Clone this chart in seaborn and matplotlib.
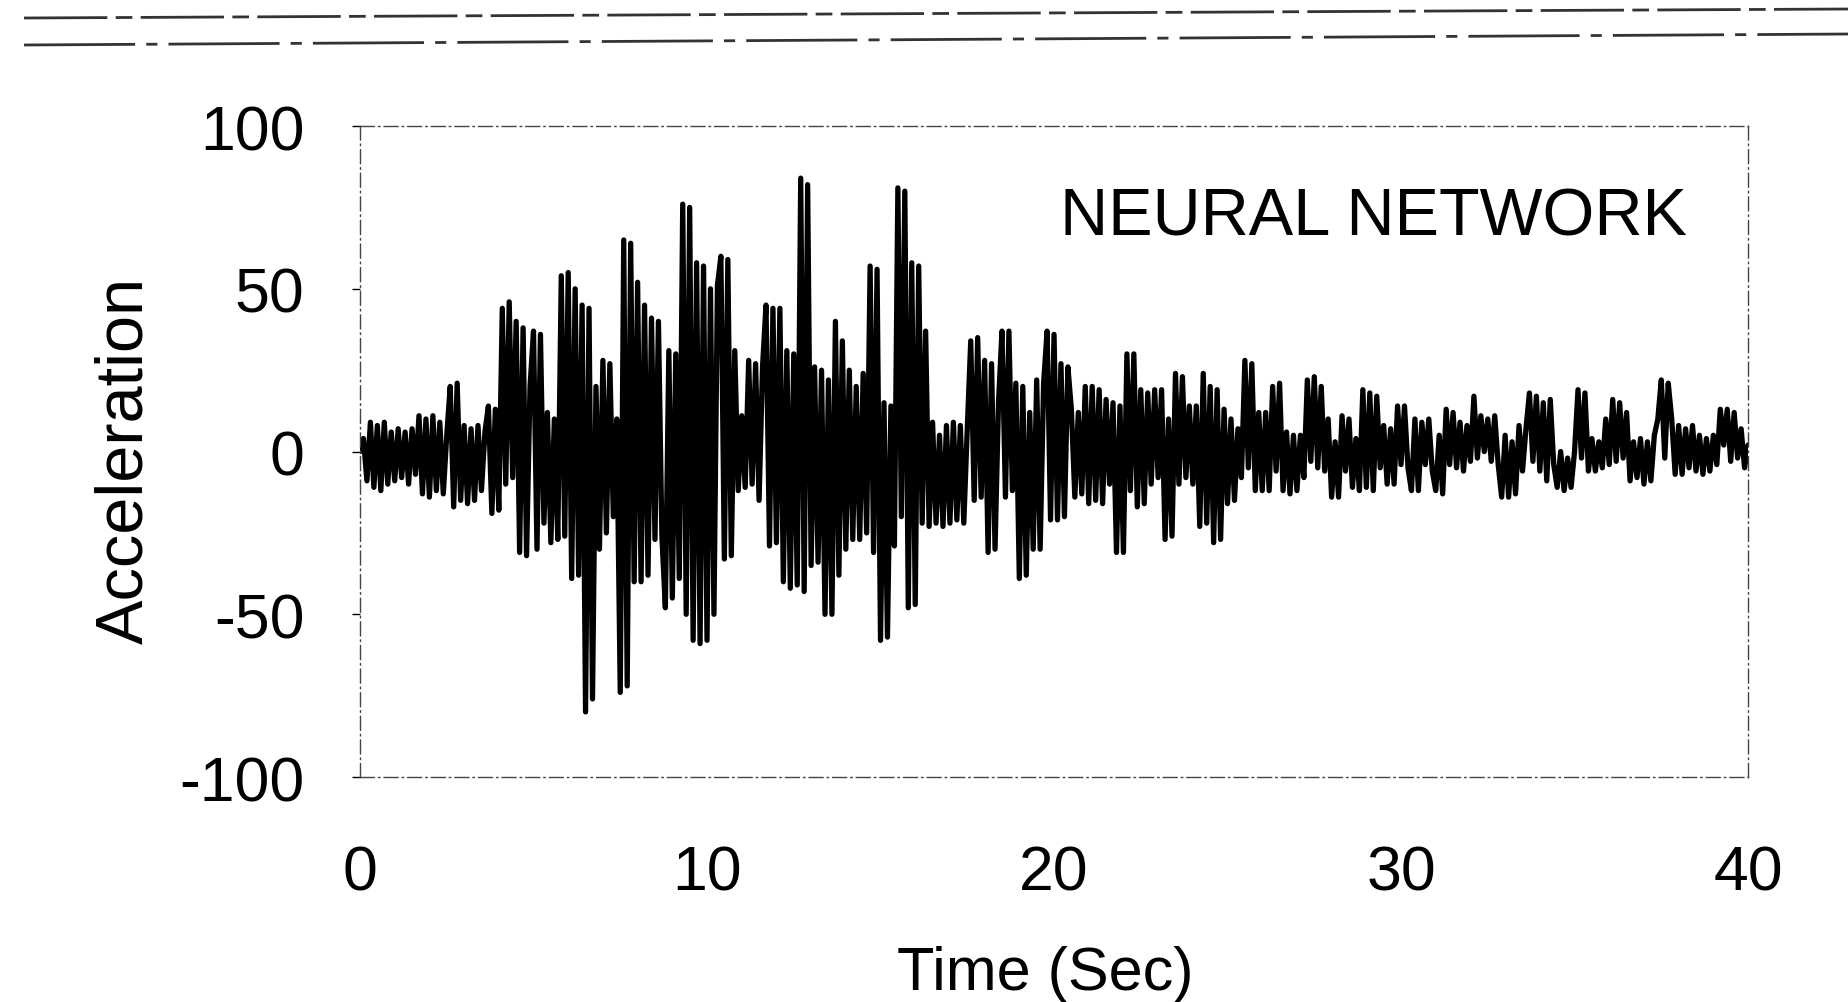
import numpy as np
import matplotlib
matplotlib.use("Agg")
import matplotlib.pyplot as plt
from matplotlib.lines import Line2D
import seaborn as sns

# acceleration, one value every 0.1 s
accel_00_10 = [
    0, 4, -9, 9, -11, 8, -12, 9, -10, 6,
    -9, 7, -8, 6, -10, 7, -7, 11, -13, 10,
    -14, 11, -12, 9, -13, 5, 20, -17, 21, -15,
    8, -16, 7, -15, 8, -12, 6, 14, -19, 13,
    -18, 44, -10, 46, -8, 40, -31, 38, -32, 20,
    37, -30, 36, -22, 12, -28, 10, -27, 54, -26,
    55, -39, 50, -38, 45, -80, 44, -76, 20, -30,
    28, -25, 27, -20, 10, -74, 65, -72, 64, -40,
    52, -40, 45, -38, 41, -27, 40, -26, -48, 31,
    -45, 30, -39, 76, -50, 75, -58, 58, -59, 57,
]
accel_10_20 = [
    -58, 50, -50, 51, 60, -33, 59, -32, 31, -12,
    11, -11, 28, -10, 27, -15, 26, 45, -29, 44,
    -28, 44, -40, 31, -42, 30, -41, 84, -43, 82,
    -35, 26, -34, 25, -50, 22, -50, 40, -38, 34,
    -30, 25, -27, 20, -27, 24, -25, 57, -31, 56,
    -58, 15, -57, 14, -29, 81, -20, 80, -48, 58,
    -47, 57, -22, 37, -23, 9, -22, 5, -23, 8,
    -22, 9, -21, 8, -22, 7, 34, -15, 35, -14,
    28, -31, 27, -30, 15, 37, -14, 37, -12, 21,
    -39, 20, -38, 12, -30, 22, -30, 21, 37, -21,
]
accel_20_30 = [
    36, -21, 27, -20, 26, 13, -14, 12, -13, 20,
    -16, 20, -15, 19, -16, 16, -10, 15, -31, 14,
    -31, 30, -12, 30, -17, 19, -16, 18, -10, 19,
    -8, 19, -27, 10, -26, 24, -10, 23, -8, 14,
    -10, 14, -23, 24, -22, 20, -28, 19, -27, 13,
    -16, 10, -15, 7, -8, 28, -5, 27, -12, 12,
    -12, 12, -12, 20, -6, 21, -12, 6, -13, 5,
    -12, 5, -8, 22, -3, 23, -5, 20, -6, 10,
    -14, 3, -14, 11, -6, 10, -11, 4, -12, 19,
    -11, 18, -12, 17, -5, 8, -10, 7, -10, 14,
]
accel_30_40 = [
    -4, 14, -5, -12, 10, -12, 9, -4, 10, -6,
    -12, 5, -13, 13, -4, 12, -5, 9, -6, 8,
    -3, 17, -2, 11, 0, 10, -3, 11, -4, -14,
    5, -14, 3, -13, 8, -6, 7, 18, -3, 17,
    -6, 15, -9, 16, -4, -11, 0, -12, -2, -11,
    0, 19, -2, 18, -6, 4, -6, 3, -5, 10,
    -4, 16, -3, 15, -2, 12, -9, 3, -8, 4,
    -10, 3, -9, 5, 10, 22, -2, 21, 10, -7,
    8, -7, 7, -5, 8, -6, 5, -7, 4, -6,
    5, -4, 13, 2, 13, -3, 12, -2, 7, -5,
    2,
]
x_ticks = [0, 10, 20, 30, 40]
y_ticks = [-100, -50, 0, 50, 100]

accel = np.array(accel_00_10 + accel_10_20 + accel_20_30 + accel_30_40, dtype=float)
dt = 0.1
time = np.arange(len(accel)) * dt

sns.set_style("white")
plt.rcParams["font.family"] = ["Liberation Sans", "DejaVu Sans"]
plt.rcParams["axes.unicode_minus"] = False
plt.rcParams["text.color"] = "black"
plt.rcParams["axes.labelcolor"] = "black"
plt.rcParams["xtick.color"] = "black"
plt.rcParams["ytick.color"] = "black"

fig = plt.figure(figsize=(18.49, 10.03), dpi=100)
ax = fig.add_axes([0.1947, 0.2243, 0.7507, 0.649])

sns.lineplot(x=time, y=accel, ax=ax, color="black", linewidth=3.8, estimator=None)

ax.set_xlim(0, 40)
ax.set_ylim(-100, 100)
ax.set_xticks(x_ticks)
ax.set_yticks(y_ticks)
ax.tick_params(axis="x", length=0, pad=48, labelsize=45)
ax.tick_params(axis="y", length=6, width=1, pad=34, labelsize=45, left=True)

for sp in ax.spines.values():
    sp.set_linestyle((0, (10, 3, 1, 3)))
    sp.set_linewidth(1.0)
    sp.set_color("#444444")

ax.set_xlabel("Time (Sec)", fontsize=44)
ax.set_ylabel("Acceleration", fontsize=48)
ax.xaxis.set_label_coords(0.494, -0.258)
ax.yaxis.set_label_coords(-0.147, 0.488)

ax.text(0.504, 0.833, "NEURAL NETWORK", transform=ax.transAxes,
        fontsize=48, va="baseline", ha="left")

# faint rules at the top of the scanned page
fig.add_artist(Line2D([0.013, 1.0], [1 - 19 / 1003, 1 - 10 / 1003],
                      transform=fig.transFigure, color="#333333",
                      linewidth=2.0, linestyle=(0, (30, 3, 6, 3))))
fig.add_artist(Line2D([0.013, 1.0], [1 - 46 / 1003, 1 - 35 / 1003],
                      transform=fig.transFigure, color="#333333",
                      linewidth=2.0, linestyle=(0, (40, 4, 4, 4))))

fig.savefig("out.png", dpi=100)
